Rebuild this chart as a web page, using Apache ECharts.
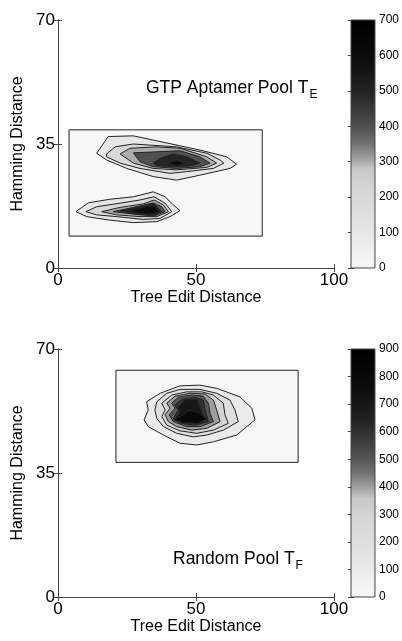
<!DOCTYPE html>
<html>
<head>
<meta charset="utf-8">
<script src="https://cdn.jsdelivr.net/npm/echarts@6/dist/echarts.min.js"></script>
<style>
html, body { margin: 0; padding: 0; background: #fff; }
#chart { width: 402px; height: 641px; }
</style>
</head>
<body>
<div id="chart"></div>
<script>
// axis ticks
var xTicks = [0, 50, 100];
var yTicks = [0, 35, 70];

// GTP aptamer pool (top panel)
var gtpColorMax = 700;
var gtpDomainX = [4, 74];
var gtpDomainY = [9, 39];
var gtpLevels = [100, 200, 300, 400, 500, 600];
var gtpUpperRings = [
    [[14.0,32.4],[18.2,37.1],[27.3,37.3],[51.4,33.3],[61.1,31.4],[64.7,29.3],[62.3,28.1],[51.4,26.2],[43.0,24.8],[34.5,25.8],[24.9,28.1],[17.6,30.5]],
    [[17.6,32.2],[20.7,34.2],[27.3,35.0],[43.0,34.2],[53.9,32.4],[58.7,30.5],[60.1,29.6],[56.3,28.1],[46.6,27.2],[40.6,26.7],[29.7,28.1],[22.5,29.6],[17.6,31.4]],
    [[22.5,32.2],[26.1,33.8],[35.8,34.2],[44.2,33.8],[53.9,31.4],[57.5,29.6],[53.9,28.4],[43.0,27.7],[34.5,28.1],[27.3,29.6]],
    [[27.3,32.5],[35.8,32.8],[44.2,33.1],[51.4,31.4],[55.1,29.6],[51.4,28.6],[43.0,28.1],[34.5,28.6],[29.7,30.0]],
    [[34.5,29.6],[37.0,31.0],[41.8,32.2],[46.6,31.4],[51.4,29.6],[47.8,28.8],[41.8,28.6],[35.8,28.9]],
    [[39.4,29.6],[43.0,30.3],[46.0,29.6],[43.0,28.9]]
];
var gtpLowerRings = [
    [[6.5,15.9],[11.0,18.4],[18.8,19.4],[27.3,20.1],[34.5,21.5],[38.8,20.1],[41.8,17.8],[44.2,16.2],[40.6,14.5],[35.8,13.1],[27.3,12.8],[18.8,13.5],[10.4,14.5]],
    [[10.1,15.9],[14.0,17.3],[22.5,18.3],[29.7,19.2],[34.8,20.1],[38.8,18.3],[41.2,15.9],[37.0,14.0],[30.9,13.7],[21.3,14.5],[14.0,15.0]],
    [[15.8,15.9],[22.5,17.1],[30.9,18.1],[34.8,19.2],[38.2,17.8],[40.0,15.9],[35.8,14.5],[29.7,14.5],[21.3,15.0]],
    [[20.0,15.9],[27.3,17.1],[34.5,18.4],[37.6,17.3],[38.8,15.9],[35.1,14.7],[29.7,15.0]],
    [[22.5,16.1],[29.7,17.3],[34.8,18.1],[37.6,15.9],[34.5,14.9],[28.5,15.2]],
    [[26.1,16.2],[32.1,17.3],[35.1,17.5],[36.7,15.9],[33.9,15.2],[29.7,15.4]]
];

// Random pool (bottom panel)
var randomColorMax = 900;
var randomDomainX = [21, 87];
var randomDomainY = [38, 64];
var randomLevels = [100, 200, 300, 400, 500, 600, 700, 800];
var randomRings = [
    [[32.1,55.1],[37.0,57.5],[44.2,59.6],[51.4,59.8],[57.5,58.9],[65.9,56.5],[70.2,53.3],[71.4,50.0],[64.7,45.7],[56.3,43.8],[50.3,42.9],[44.2,43.4],[38.2,45.7],[32.7,48.1],[31.2,50.0],[32.7,52.8]],
    [[35.8,55.1],[39.4,57.5],[44.2,58.6],[51.4,58.6],[57.5,57.5],[62.3,55.6],[64.1,52.8],[65.3,49.5],[59.9,47.1],[53.9,45.7],[49.0,45.2],[43.0,46.2],[38.2,48.1],[35.8,50.4],[35.1,52.8]],
    [[37.6,54.7],[41.2,57.0],[46.6,57.9],[52.1,57.9],[56.3,57.0],[59.9,54.7],[60.5,51.4],[61.7,49.0],[56.3,47.1],[50.3,46.2],[44.2,46.9],[39.4,48.5],[37.6,50.9],[38.8,52.8]],
    [[39.4,54.7],[42.4,56.7],[47.8,57.5],[53.3,57.3],[56.3,55.6],[57.5,52.8],[58.7,49.5],[53.9,47.6],[48.4,47.1],[43.0,48.1],[40.0,49.5],[38.8,51.4],[40.6,53.3]],
    [[41.2,54.7],[43.6,56.4],[48.4,57.0],[52.6,56.7],[54.5,54.7],[55.1,51.8],[56.3,49.5],[51.4,48.1],[46.6,48.1],[41.8,49.5],[40.3,51.4],[42.4,53.3]],
    [[42.4,54.2],[44.8,55.8],[49.6,56.4],[52.6,55.6],[53.3,52.8],[54.5,49.5],[49.6,48.5],[44.8,49.0],[41.8,50.4],[43.6,52.8]],
    [[43.6,53.7],[46.0,55.6],[50.3,55.8],[51.4,53.7],[52.6,50.9],[50.8,49.0],[46.0,49.5],[42.4,50.4],[44.2,52.0]],
    [[41.8,50.0],[45.4,51.4],[47.8,52.8],[51.4,51.8],[53.9,50.2],[50.8,49.0],[45.4,49.2]]
];

// grey colormap, [fraction of max, grey level]
var grayStops = [[0,0.97],[0.11,0.92],[0.22,0.87],[0.33,0.83],[0.40,0.78],[0.44,0.63],[0.50,0.45],[0.56,0.33],[0.63,0.24],[0.70,0.15],[0.78,0.09],[0.86,0.04],[1,0]];

function gray(t) {
    var g = grayStops[grayStops.length - 1][1];
    for (var i = 1; i < grayStops.length; i++) {
        if (t <= grayStops[i][0]) {
            var a = grayStops[i - 1], b = grayStops[i];
            g = a[1] + (b[1] - a[1]) * (t - a[0]) / (b[0] - a[0]);
            break;
        }
    }
    var c = Math.round(g * 255);
    return 'rgb(' + c + ',' + c + ',' + c + ')';
}

function buildRings(domainX, domainY, levels, groups) {
    var rings = [{ level: 0, pts: [[domainX[0], domainY[0]], [domainX[1], domainY[0]], [domainX[1], domainY[1]], [domainX[0], domainY[1]]] }];
    for (var l = 0; l < levels.length; l++) {
        for (var g = 0; g < groups.length; g++) {
            if (groups[g][l]) rings.push({ level: levels[l], pts: groups[g][l] });
        }
    }
    return rings;
}

var gtpRings = buildRings(gtpDomainX, gtpDomainY, gtpLevels, [gtpUpperRings, gtpLowerRings]);
var randomRings2 = buildRings(randomDomainX, randomDomainY, randomLevels, [randomRings]);

var font = 'Liberation Sans, Arial, Helvetica, sans-serif';
var lineColor = '#444';

function mainX(gridIndex, pos, labels) {
    return {
        type: 'value', gridIndex: gridIndex, position: pos,
        min: xTicks[0], max: xTicks[xTicks.length - 1], interval: xTicks[1] - xTicks[0],
        name: labels ? 'Tree Edit Distance' : '', nameLocation: 'middle', nameGap: 21,
        nameTextStyle: { fontFamily: font, fontSize: 16, color: '#000' },
        axisLine: { show: true, lineStyle: { color: lineColor, width: 1 } },
        axisTick: { show: true, inside: true, length: 4, lineStyle: { color: lineColor } },
        axisLabel: { show: labels, fontFamily: font, fontSize: 17, color: '#000', margin: 4 },
        splitLine: { show: false }
    };
}
function mainY(gridIndex, pos, labels) {
    return {
        type: 'value', gridIndex: gridIndex, position: pos,
        min: yTicks[0], max: yTicks[yTicks.length - 1], interval: yTicks[1] - yTicks[0],
        name: labels ? 'Hamming Distance' : '', nameLocation: 'middle', nameGap: 28,
        nameTextStyle: { fontFamily: font, fontSize: 16, color: '#000' },
        axisLine: { show: true, lineStyle: { color: lineColor, width: 1 } },
        axisTick: { show: true, inside: true, length: 4, lineStyle: { color: lineColor } },
        axisLabel: { show: labels, fontFamily: font, fontSize: 17, color: '#000', margin: 3 },
        splitLine: { show: false }
    };
}
function barX(gridIndex) {
    return { type: 'value', gridIndex: gridIndex, min: 0, max: 1, show: false };
}
function barY(gridIndex, pos, labels, max) {
    return {
        type: 'value', gridIndex: gridIndex, position: pos, min: 0, max: max, interval: 100,
        axisLine: { show: false },
        axisTick: { show: true, inside: true, length: 3, lineStyle: { color: lineColor } },
        axisLabel: { show: labels, fontFamily: font, fontSize: 12, color: '#000', margin: 4 },
        splitLine: { show: false }
    };
}

function contourSeries(xi, yi, rings, max) {
    return {
        type: 'custom', xAxisIndex: xi, yAxisIndex: yi, silent: true,
        data: rings.map(function (r, i) { return i; }),
        renderItem: function (params, api) {
            var r = rings[params.dataIndex];
            return {
                type: 'polygon',
                shape: { points: r.pts.map(function (p) { return api.coord(p); }) },
                style: { fill: gray(r.level / max), stroke: '#222', lineWidth: 1 }
            };
        }
    };
}
function colorbarSeries(xi, yi, max) {
    return {
        type: 'custom', xAxisIndex: xi, yAxisIndex: yi, silent: true,
        data: [max],
        renderItem: function (params, api) {
            var p0 = api.coord([0, 0]);
            var p1 = api.coord([1, api.value(0)]);
            var stops = grayStops.map(function (s) { return { offset: s[0], color: gray(s[0]) }; });
            return {
                type: 'rect',
                shape: { x: p0[0], y: p1[1], width: p1[0] - p0[0], height: p0[1] - p1[1] },
                style: { fill: new echarts.graphic.LinearGradient(0, 1, 0, 0, stops), stroke: lineColor, lineWidth: 1 }
            };
        }
    };
}

var titleRich = {
    m: { fontFamily: font, fontSize: 17.5, fontWeight: 'normal', color: '#000' },
    s: { fontFamily: font, fontSize: 12, fontWeight: 'normal', color: '#000', padding: [14, 0, 0, 1] }
};

var chart = echarts.init(document.getElementById('chart'));
var option = {
    backgroundColor: '#fff',
    animation: false,
    title: [
        { text: '{m|GTP Aptamer Pool T}{s|E}', left: 141, top: 70, textStyle: { fontWeight: 'normal', rich: titleRich } },
        { text: '{m|Random Pool T}{s|F}', left: 168, top: 541, textStyle: { fontWeight: 'normal', rich: titleRich } }
    ],
    grid: [
        { left: 58, top: 20, width: 276, height: 248 },
        { left: 351, top: 20, width: 24, height: 248 },
        { left: 58, top: 349, width: 276, height: 248 },
        { left: 351, top: 349, width: 24, height: 248 }
    ],
    xAxis: [
        mainX(0, 'bottom', true), mainX(0, 'top', false),
        barX(1),
        mainX(2, 'bottom', true), mainX(2, 'top', false),
        barX(3)
    ],
    yAxis: [
        mainY(0, 'left', true), mainY(0, 'right', false),
        barY(1, 'right', true, gtpColorMax), barY(1, 'left', false, gtpColorMax),
        mainY(2, 'left', true), mainY(2, 'right', false),
        barY(3, 'right', true, randomColorMax), barY(3, 'left', false, randomColorMax)
    ],
    series: [
        contourSeries(0, 0, gtpRings, gtpColorMax),
        colorbarSeries(2, 2, gtpColorMax),
        contourSeries(3, 4, randomRings2, randomColorMax),
        colorbarSeries(5, 6, randomColorMax)
    ]
};
chart.setOption(option);
</script>
</body>
</html>
